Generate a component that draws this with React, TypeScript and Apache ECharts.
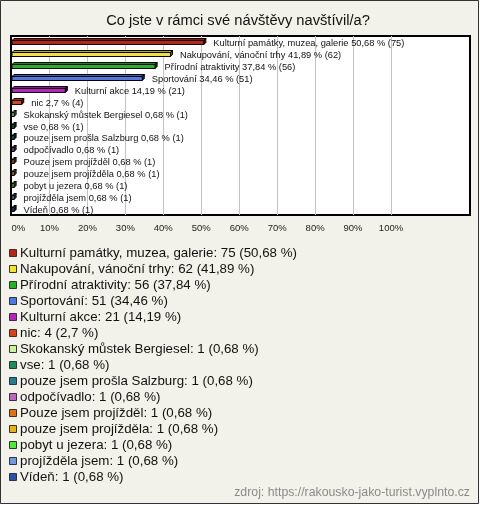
import React, { useEffect, useRef } from "react";
import * as echarts from "echarts";

const categories = [
  "Kulturní památky, muzea, galerie",
  "Nakupování, vánoční trhy",
  "Přírodní atraktivity",
  "Sportování",
  "Kulturní akce",
  "nic",
  "Skokanský můstek Bergiesel",
  "vse",
  "pouze jsem prošla Salzburg",
  "odpočívadlo",
  "Pouze jsem projížděl",
  "pouze jsem projížděla",
  "pobyt u jezera",
  "projížděla jsem",
  "Vídeň",
];
const counts = [75, 62, 56, 51, 21, 4, 1, 1, 1, 1, 1, 1, 1, 1, 1];
const percents = [50.68, 41.89, 37.84, 34.46, 14.19, 2.7, 0.68, 0.68, 0.68, 0.68, 0.68, 0.68, 0.68, 0.68, 0.68];
const colors = [
  "#c4200e", "#f8e41c", "#1cb81c", "#4a78ee", "#c01cc8", "#e0420a", "#c8f494", "#12905e",
  "#1c8092", "#c462c4", "#e8720a", "#e8b20a", "#4aee34", "#6a9ae6", "#2452b8",
];
const titleText = "Co jste v rámci své návštěvy navštívil/a?";
const sourceText = "zdroj: https://rakousko-jako-turist.vyplnto.cz";

const FONT = '"Liberation Sans", Arial, sans-serif';
const fmt = (v: number) => String(v).replace(".", ",");

function shade(hex: string, f: number) {
  const n = parseInt(hex.slice(1), 16);
  const r = Math.round(((n >> 16) & 255) * f);
  const g = Math.round(((n >> 8) & 255) * f);
  const b = Math.round((n & 255) * f);
  return `rgb(${r},${g},${b})`;
}

export default function App() {
  const ref = useRef<HTMLDivElement>(null);
  useEffect(() => {
    if (!ref.current) return;
    const chart = echarts.init(ref.current, undefined, { renderer: "svg" });
    const graphics: any[] = [
      {
        type: "rect",
        z: -20,
        shape: { x: 0.5, y: 0.5, width: 478, height: 503 },
        style: { fill: "#f3f2ea", stroke: "#333", lineWidth: 1 },
      },
      {
        type: "rect",
        z: -10,
        shape: { x: 11, y: 36, width: 459, height: 179 },
        style: { fill: "#ffffff", stroke: "#000", lineWidth: 2 },
      },
      {
        type: "text",
        x: 238,
        y: 20,
        style: { text: titleText, font: `14.7px ${FONT}`, fill: "#111", align: "center", verticalAlign: "middle" },
      },
      {
        type: "text",
        x: 470,
        y: 492,
        style: { text: sourceText, font: `12.3px ${FONT}`, fill: "#8a8a8a", align: "right", verticalAlign: "middle" },
      },
    ];
    categories.forEach((c, i) => {
      graphics.push({
        type: "rect",
        z: 10,
        shape: { x: 9.5, y: 249.5 + 16 * i, width: 7, height: 7 },
        style: { fill: colors[i], stroke: "#333", lineWidth: 1 },
      });
      graphics.push({
        type: "text",
        z: 10,
        x: 20,
        y: 252 + 16 * i,
        style: {
          text: `${c}: ${counts[i]} (${fmt(percents[i])} %)`,
          font: `13.3px ${FONT}`,
          fill: "#111",
          align: "left",
          verticalAlign: "middle",
        },
      });
    });

    chart.setOption({
      animation: false,
      grid: { left: 11.5, top: 36, width: 379.5, height: 179, containLabel: false },
      xAxis: {
        type: "value",
        min: 0,
        max: 100,
        interval: 10,
        axisLine: { show: false },
        axisTick: { show: false },
        axisLabel: {
          formatter: "{value}%",
          color: "#222",
          fontSize: 9.5,
          fontFamily: FONT,
          margin: 7,
          alignMinLabel: "left",
        },
        splitLine: { show: true, showMinLine: false, lineStyle: { color: "#c4c4c4", width: 1 } },
      },
      yAxis: {
        type: "category",
        data: categories,
        inverse: true,
        show: false,
      },
      graphic: graphics,
      series: [
        {
          type: "custom",
          data: percents.map((p, i) => [p, i]),
          encode: { x: 0, y: 1 },
          renderItem: (params: any, api: any) => {
            const val = api.value(0);
            const idx = api.value(1);
            const p0 = api.coord([0, idx]);
            const p1 = api.coord([val, idx]);
            const c = Math.round(p0[1]) + 0.5;
            const x0 = p0[0] + 0.5;
            const x1 = Math.max(p1[0], x0 + 1.5);
            const d = 2;
            const h = 4;
            const col = colors[idx];
            const yt = c - 2;
            const yb = c + 2;
            return {
              type: "group",
              children: [
                {
                  type: "polygon",
                  shape: { points: [[x0, yt], [x0 + d, yt - d], [x1 + d, yt - d], [x1, yt]] },
                  style: { fill: shade(col, 0.75), stroke: "#000", lineWidth: 1 },
                },
                {
                  type: "polygon",
                  shape: { points: [[x1, yt], [x1 + d, yt - d], [x1 + d, yb - d], [x1, yb]] },
                  style: { fill: shade(col, 0.4), stroke: "#000", lineWidth: 1 },
                },
                {
                  type: "rect",
                  shape: { x: x0, y: yt, width: x1 - x0, height: h },
                  style: { fill: col, stroke: "#000", lineWidth: 1 },
                },
                {
                  type: "text",
                  x: x1 + 9.5,
                  y: c,
                  style: {
                    text: `${categories[idx]} ${fmt(val)} % (${counts[idx]})`,
                    font: `9.3px ${FONT}`,
                    fill: "#111",
                    align: "left",
                    verticalAlign: "middle",
                  },
                },
              ],
            };
          },
        },
      ],
    });
    return () => chart.dispose();
  }, []);
  return (
    <div
      ref={ref}
      style={{ position: "fixed", left: 0, top: 0, width: 480, height: 505 }}
    />
  );
}
